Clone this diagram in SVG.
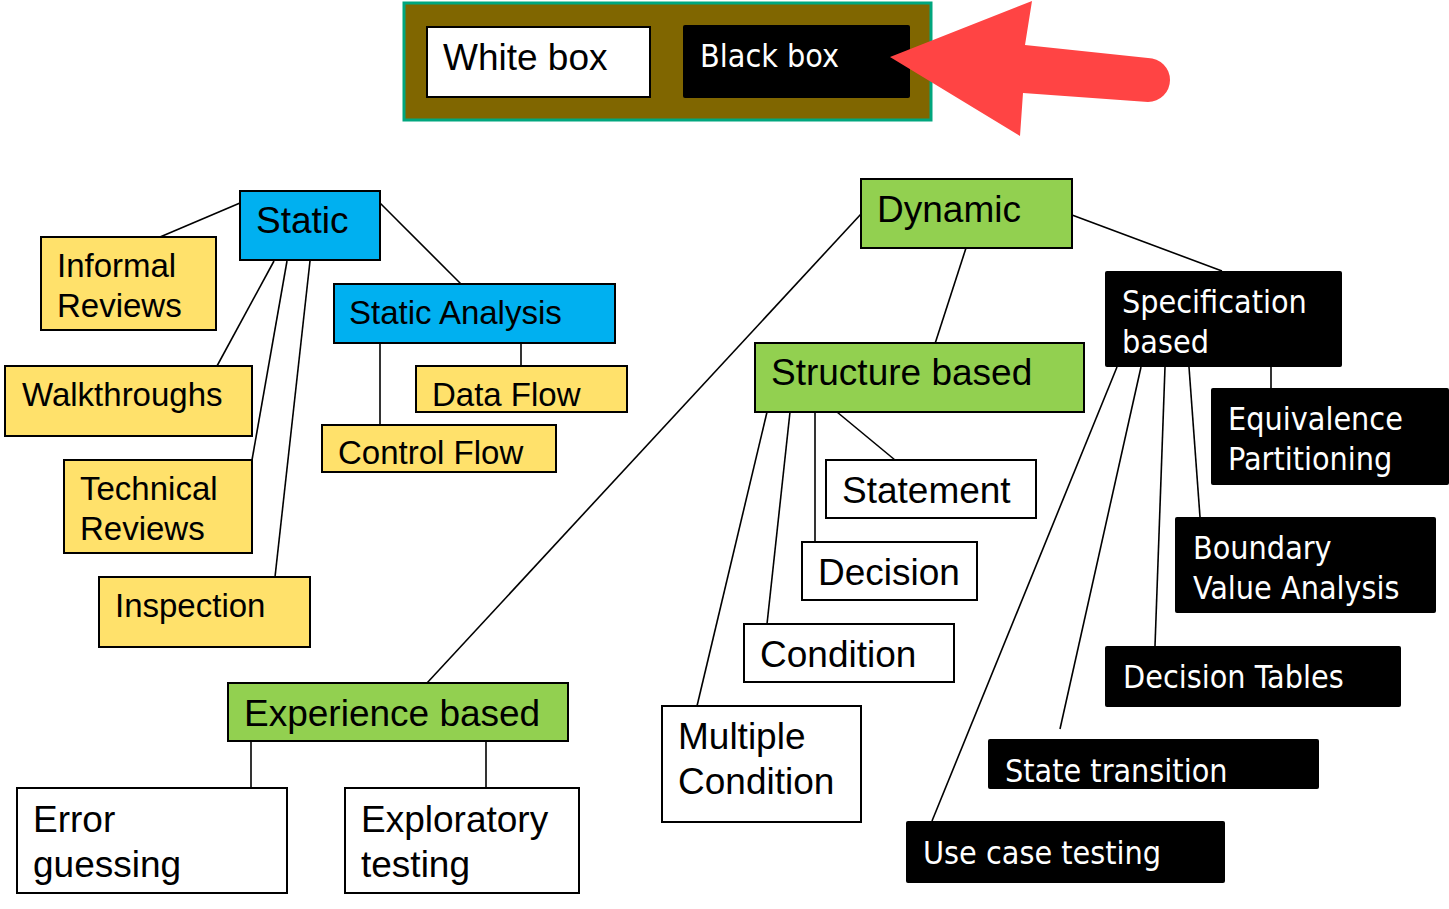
<svg xmlns="http://www.w3.org/2000/svg" width="1449" height="909" viewBox="0 0 1449 909">
<style>
.b{stroke:#000;stroke-width:2}
.y{fill:#ffe16b}
.bl{fill:#00b0f0}
.g{fill:#92d050}
.w{fill:#fff}
.k{fill:#000}
.t{font-family:"Liberation Sans",Arial,sans-serif;fill:#000}
.t36{font-size:37px}
.t33{font-size:33px}
.tk{font-family:"DejaVu Sans Condensed","DejaVu Sans",sans-serif;font-size:32px;fill:#fff}
#connectors line{stroke:#000;stroke-width:1.6}
</style>
<rect width="1449" height="909" fill="#fff"/>
<g id="legend">
<rect x="404" y="3" width="527" height="117" fill="#806600" stroke="#00a67e" stroke-width="3"/>
<rect x="427" y="27" width="223" height="70" class="w b"/>
<text x="443" y="70" class="t t36">White box</text>
<rect x="683" y="25" width="227" height="73" rx="2" class="k"/>
<text x="700" y="67" class="tk">Black box</text>
</g>
<g id="arrow">
<path d="M890,57 L1032,1 L1025,45 L1148,58 A22,22 0 0 1 1148,102 L1023,93 L1020,136 Z" fill="#ff4444"/>
</g>
<g id="connectors">
<line x1="240" y1="203" x2="160" y2="237"/>
<line x1="274" y1="261" x2="217" y2="366"/>
<line x1="287" y1="261" x2="252" y2="460"/>
<line x1="310" y1="261" x2="275" y2="577"/>
<line x1="380" y1="203" x2="461" y2="284"/>
<line x1="380" y1="343" x2="380" y2="425"/>
<line x1="521" y1="343" x2="521" y2="366"/>
<line x1="861" y1="214" x2="427" y2="683"/>
<line x1="966" y1="248" x2="932" y2="353"/>
<line x1="1072" y1="215" x2="1222" y2="271"/>
<line x1="1271" y1="367" x2="1271" y2="388"/>
<line x1="1189" y1="367" x2="1200" y2="517"/>
<line x1="1165" y1="367" x2="1155" y2="646"/>
<line x1="1141" y1="367" x2="1060" y2="729"/>
<line x1="1117" y1="367" x2="932" y2="821"/>
<line x1="837" y1="412" x2="895" y2="460"/>
<line x1="815" y1="412" x2="815" y2="542"/>
<line x1="790" y1="412" x2="767" y2="624"/>
<line x1="767" y1="412" x2="697" y2="706"/>
<line x1="251" y1="741" x2="251" y2="788"/>
<line x1="486" y1="741" x2="486" y2="788"/>
</g>
<g id="static">
<rect x="240" y="191" width="140" height="69" class="bl b"/>
<text x="256" y="233" class="t t36">Static</text>
</g>
<g id="informal-reviews">
<rect x="41" y="237" width="175" height="93" class="y b"/>
<text x="57" y="277" class="t t33">Informal</text>
<text x="57" y="317" class="t t33">Reviews</text>
</g>
<g id="walkthroughs">
<rect x="5" y="366" width="247" height="70" class="y b"/>
<text x="22" y="406" class="t t33">Walkthroughs</text>
</g>
<g id="technical-reviews">
<rect x="64" y="460" width="188" height="93" class="y b"/>
<text x="80" y="500" class="t t33">Technical</text>
<text x="80" y="540" class="t t33">Reviews</text>
</g>
<g id="inspection">
<rect x="99" y="577" width="211" height="70" class="y b"/>
<text x="115" y="617" class="t t33">Inspection</text>
</g>
<g id="static-analysis">
<rect x="334" y="284" width="281" height="59" class="bl b"/>
<text x="349" y="324" class="t t33">Static Analysis</text>
</g>
<g id="data-flow">
<rect x="416" y="366" width="211" height="46" class="y b"/>
<text x="432" y="406" class="t t33">Data Flow</text>
</g>
<g id="control-flow">
<rect x="322" y="425" width="234" height="47" class="y b"/>
<text x="338" y="464" class="t t33">Control Flow</text>
</g>
<g id="dynamic">
<rect x="861" y="179" width="211" height="69" class="g b"/>
<text x="877" y="222" class="t t36">Dynamic</text>
</g>
<g id="structure-based">
<rect x="755" y="343" width="329" height="69" class="g b"/>
<text x="771" y="385" class="t t36">Structure based</text>
</g>
<g id="statement">
<rect x="826" y="460" width="210" height="58" class="w b"/>
<text x="842" y="503" class="t t36">Statement</text>
</g>
<g id="decision">
<rect x="802" y="542" width="175" height="58" class="w b"/>
<text x="818" y="585" class="t t36">Decision</text>
</g>
<g id="condition">
<rect x="744" y="624" width="210" height="58" class="w b"/>
<text x="760" y="667" class="t t36">Condition</text>
</g>
<g id="multiple-condition">
<rect x="662" y="706" width="199" height="116" class="w b"/>
<text x="678" y="749" class="t t36">Multiple</text>
<text x="678" y="794" class="t t36">Condition</text>
</g>
<g id="specification-based">
<rect x="1105" y="271" width="237" height="96" rx="2" class="k"/>
<text x="1122" y="313" class="tk">Specification</text>
<text x="1122" y="353" class="tk">based</text>
</g>
<g id="equivalence-partitioning">
<rect x="1211" y="388" width="238" height="97" rx="2" class="k"/>
<text x="1228" y="430" class="tk">Equivalence</text>
<text x="1228" y="470" class="tk">Partitioning</text>
</g>
<g id="boundary-value-analysis">
<rect x="1175" y="517" width="261" height="96" rx="2" class="k"/>
<text x="1193" y="559" class="tk">Boundary</text>
<text x="1193" y="599" class="tk">Value Analysis</text>
</g>
<g id="decision-tables">
<rect x="1105" y="646" width="296" height="61" rx="2" class="k"/>
<text x="1123" y="688" class="tk">Decision Tables</text>
</g>
<g id="state-transition">
<rect x="988" y="739" width="331" height="50" rx="2" class="k"/>
<text x="1005" y="782" class="tk">State transition</text>
</g>
<g id="use-case-testing">
<rect x="906" y="821" width="319" height="62" rx="2" class="k"/>
<text x="923" y="864" class="tk">Use case testing</text>
</g>
<g id="experience-based">
<rect x="228" y="683" width="340" height="58" class="g b"/>
<text x="244" y="726" class="t t36">Experience based</text>
</g>
<g id="error-guessing">
<rect x="17" y="788" width="270" height="105" class="w b"/>
<text x="33" y="832" class="t t36">Error</text>
<text x="33" y="877" class="t t36">guessing</text>
</g>
<g id="exploratory-testing">
<rect x="345" y="788" width="234" height="105" class="w b"/>
<text x="361" y="832" class="t t36">Exploratory</text>
<text x="361" y="877" class="t t36">testing</text>
</g>
</svg>
